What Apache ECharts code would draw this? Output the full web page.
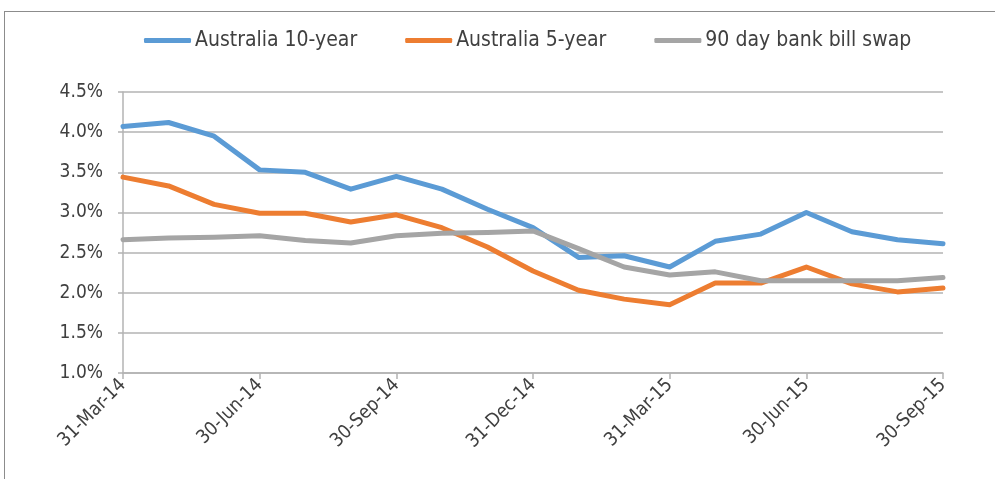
<!DOCTYPE html>
<html>
<head>
<meta charset="utf-8">
<script src="https://cdn.jsdelivr.net/npm/echarts@6/dist/echarts.min.js"></script>
<style>
  html, body { margin: 0; padding: 0; background: #fff; overflow: hidden; }
  .frame {
    position: absolute;
    left: 4px;
    top: 11px;
    width: 1100px;
    height: 600px;
    border-left: 1px solid #8c8c8c;
    border-top: 1px solid #8c8c8c;
  }
  #chart { position: absolute; left: 0; top: 0; width: 995px; height: 479px; }
</style>
</head>
<body>
<div class="frame"></div>
<div id="chart"></div>
<script>
const dateList = [
  '31-Mar-14', '30-Apr-14', '31-May-14', '30-Jun-14', '31-Jul-14', '31-Aug-14',
  '30-Sep-14', '31-Oct-14', '30-Nov-14', '31-Dec-14', '31-Jan-15', '28-Feb-15',
  '31-Mar-15', '30-Apr-15', '31-May-15', '30-Jun-15', '31-Jul-15', '31-Aug-15',
  '30-Sep-15'
]
const aus10y = [4.07, 4.12, 3.95, 3.53, 3.50, 3.29, 3.45, 3.29, 3.04, 2.81,
  2.44, 2.46, 2.32, 2.64, 2.73, 3.00, 2.76, 2.66, 2.61]
const aus5y = [3.44, 3.33, 3.10, 2.99, 2.99, 2.88, 2.97, 2.81, 2.57, 2.27,
  2.03, 1.92, 1.85, 2.12, 2.12, 2.32, 2.11, 2.01, 2.06]
const bankBill = [2.66, 2.68, 2.69, 2.71, 2.65, 2.62, 2.71, 2.74, 2.75, 2.77,
  2.55, 2.32, 2.22, 2.26, 2.15, 2.15, 2.15, 2.15, 2.19]

const font = "'Liberation Sans Narrow', 'DejaVu Sans Condensed', 'Liberation Sans', sans-serif"
const textColor = '#404040'
const gridColor = '#b3b3b3'

const chart = echarts.init(document.getElementById('chart'))

function lineSeries(name, data, color) {
  return {
    name: name,
    type: 'line',
    data: data,
    symbol: 'none',
    lineStyle: { width: 5, color: color, cap: 'round', join: 'round' },
    itemStyle: { color: color }
  }
}

chart.setOption({
  animation: false,
  legend: {
    top: 25,
    left: 139,
    itemWidth: 47,
    itemHeight: 5,
    itemGap: 48,
    icon: 'roundRect',
    textStyle: { color: textColor, fontSize: 21, fontFamily: font, padding: [0, 0, 0, -1] },
    data: ['Australia 10-year', 'Australia 5-year', '90 day bank bill swap']
  },
  grid: { left: 123, right: 52, top: 92, bottom: 106 },
  xAxis: {
    type: 'category',
    boundaryGap: false,
    data: dateList,
    axisLine: { lineStyle: { color: gridColor, width: 1.5 } },
    axisTick: { show: true, interval: 2, length: 6, lineStyle: { color: gridColor, width: 1.5 } },
    axisLabel: {
      interval: 2,
      rotate: 45,
      color: textColor,
      fontSize: 19,
      fontFamily: font,
      margin: 9
    }
  },
  yAxis: {
    type: 'value',
    min: 1,
    max: 4.5,
    interval: 0.5,
    axisLine: { show: true, lineStyle: { color: gridColor, width: 1.5 } },
    axisTick: { show: true, length: 5, lineStyle: { color: gridColor, width: 1.5 } },
    axisLabel: {
      color: textColor,
      fontSize: 19,
      fontFamily: font,
      margin: 20,
      formatter: v => v.toFixed(1) + '%'
    },
    splitLine: { lineStyle: { color: gridColor, width: 1.5 } }
  },
  series: [
    lineSeries('Australia 10-year', aus10y, '#5b9bd5'),
    lineSeries('Australia 5-year', aus5y, '#ed7d31'),
    lineSeries('90 day bank bill swap', bankBill, '#a5a5a5')
  ]
})
</script>
</body>
</html>
